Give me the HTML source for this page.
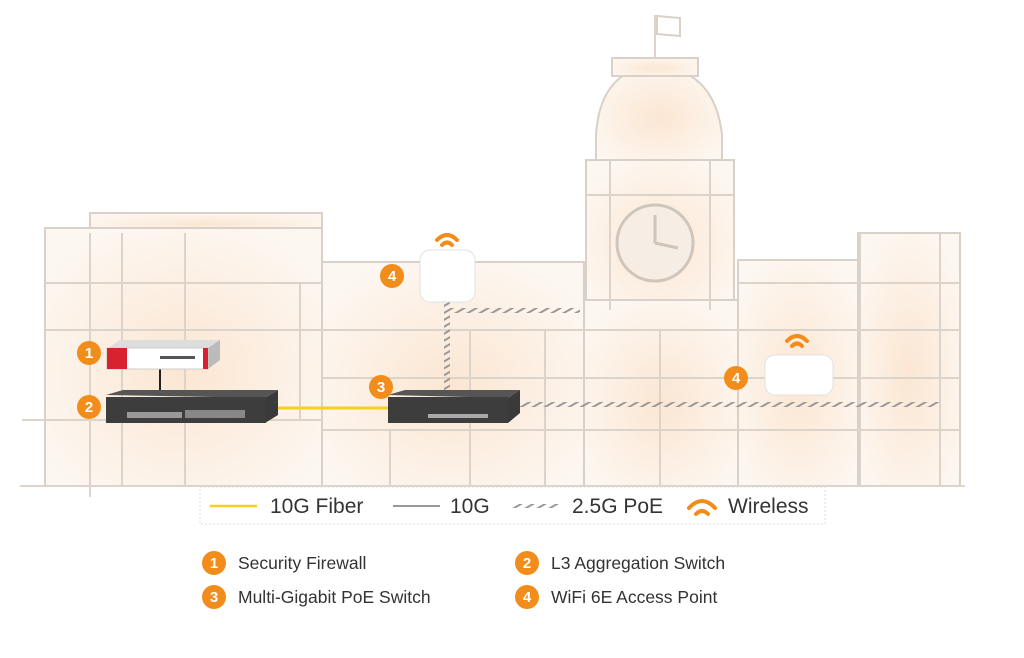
<!DOCTYPE html>
<html><head><meta charset="utf-8"><style>
body{margin:0;background:#fff;width:1024px;height:658px;overflow:hidden;font-family:"Liberation Sans",sans-serif}
svg{position:absolute;left:0;top:0}
.t{font-family:"Liberation Sans",sans-serif;fill:#333}
</style></head><body>
<svg width="1024" height="658" viewBox="0 0 1024 658">
<defs>
<radialGradient id="g" cx="50%" cy="55%" r="60%"><stop offset="0" stop-color="#fbe6d2"/><stop offset="1" stop-color="#fdf7f1"/></radialGradient>
<pattern id="hatch" width="6" height="6" patternUnits="userSpaceOnUse" patternTransform="rotate(60)"><rect width="2" height="6" fill="#999"/></pattern>
</defs>
<g fill="url(#g)" stroke="#d9d0c8" stroke-width="2">
<rect x="586" y="160" width="148" height="150"/>
<path d="M596 160 L596 135 Q600 70 655 65 Q715 70 722 135 L722 160 Z"/>
<rect x="612" y="58" width="86" height="18"/>
<rect x="90" y="213" width="232" height="20"/>
<rect x="45" y="228" width="277" height="258"/>
<rect x="322" y="262" width="262" height="225"/>
<rect x="584" y="300" width="156" height="187"/>
<rect x="738" y="260" width="120" height="226"/>
<rect x="858" y="233" width="102" height="253"/>
</g>
<g stroke="#dcd3ca" stroke-width="2" fill="none">
<line x1="45" y1="283" x2="322" y2="283"/><line x1="45" y1="330" x2="322" y2="330"/><line x1="22" y1="420" x2="322" y2="420"/>
<line x1="322" y1="330" x2="740" y2="330"/><line x1="322" y1="378" x2="740" y2="378"/><line x1="322" y1="430" x2="740" y2="430"/>
<line x1="738" y1="283" x2="960" y2="283"/><line x1="738" y1="330" x2="960" y2="330"/><line x1="738" y1="378" x2="960" y2="378"/><line x1="738" y1="430" x2="960" y2="430"/>
<line x1="90" y1="233" x2="90" y2="497"/><line x1="122" y1="233" x2="122" y2="486"/><line x1="185" y1="233" x2="185" y2="486"/><line x1="300" y1="283" x2="300" y2="420"/>
<line x1="390" y1="430" x2="390" y2="487"/><line x1="470" y1="330" x2="470" y2="487"/><line x1="545" y1="330" x2="545" y2="487"/><line x1="660" y1="330" x2="660" y2="487"/>
<line x1="860" y1="233" x2="860" y2="486"/><line x1="940" y1="233" x2="940" y2="486"/>
<line x1="586" y1="195" x2="734" y2="195"/><line x1="610" y1="160" x2="610" y2="310"/><line x1="710" y1="160" x2="710" y2="310"/>
<line x1="655" y1="15" x2="655" y2="58"/><line x1="20" y1="486" x2="965" y2="486"/>
</g>
<path d="M657 16 L680 18 L680 36 L657 34 Z" fill="#fff" stroke="#d9d0c8" stroke-width="2"/>
<circle cx="655" cy="243" r="38" fill="#f6ede4" stroke="#cfc5bb" stroke-width="3"/>
<line x1="655" y1="243" x2="655" y2="215" stroke="#cfc5bb" stroke-width="3"/><line x1="655" y1="243" x2="678" y2="248" stroke="#cfc5bb" stroke-width="3"/>
<line x1="160" y1="365" x2="160" y2="392" stroke="#222" stroke-width="2"/>
<line x1="265" y1="408" x2="390" y2="408" stroke="#f5d020" stroke-width="3"/>
<rect x="444" y="300" width="6" height="90" fill="url(#hatch)"/>
<rect x="450" y="308" width="130" height="5" fill="url(#hatch)"/>
<rect x="520" y="402" width="420" height="5" fill="url(#hatch)"/>
<path d="M108 348 L120 340 L220 340 L208 348 Z" fill="#ddd"/>
<path d="M208 348 L220 340 L220 360 L208 369 Z" fill="#bbb"/>
<rect x="107" y="348" width="101" height="21" fill="#fff" stroke="#ccc"/>
<rect x="107" y="348" width="20" height="21" fill="#d8222f"/><rect x="203" y="348" width="5" height="21" fill="#d8222f"/>
<rect x="160" y="356" width="35" height="3" fill="#555"/>
<path d="M106 395 L123 390 L278 390 L265 398 Z" fill="#555"/>
<path d="M265 398 L278 390 L278 415 L265 423 Z" fill="#3a3a3a"/>
<rect x="106" y="397" width="160" height="26" fill="#3d3d3d"/>
<rect x="127" y="412" width="55" height="6" fill="#999"/><rect x="185" y="410" width="60" height="8" fill="#888"/>
<path d="M388 395 L405 390 L520 390 L508 398 Z" fill="#555"/>
<path d="M508 398 L520 390 L520 413 L508 423 Z" fill="#3a3a3a"/>
<rect x="388" y="397" width="120" height="26" fill="#3d3d3d"/>
<rect x="428" y="414" width="60" height="4" fill="#aaa"/>
<rect x="420" y="250" width="55" height="52" rx="10" fill="#fff" stroke="#e2e2e2"/>
<rect x="765" y="355" width="68" height="40" rx="10" fill="#fff" stroke="#e2e2e2"/>
<rect x="200" y="487" width="625" height="37" fill="#fff" stroke="#ddd" stroke-dasharray="2,2"/>
<g fill="none" stroke="#f28c1a" stroke-width="4" stroke-linecap="round">
<path d="M437 240 Q447 230 457 240"/><path d="M442 245 Q447 240 452 245"/>
<path d="M787 341 Q797 331 807 341"/><path d="M792 346 Q797 341 802 346"/>
<path d="M689 508 Q702 494 715 508"/><path d="M696 514 Q702 508 708 514"/>
</g>
<g fill="#f28c1a"><circle cx="89" cy="353" r="12"/><circle cx="89" cy="407" r="12"/><circle cx="381" cy="387" r="12"/><circle cx="392" cy="276" r="12"/><circle cx="736" cy="378" r="12"/>
<circle cx="214" cy="563" r="12"/><circle cx="527" cy="563" r="12"/><circle cx="214" cy="597" r="12"/><circle cx="527" cy="597" r="12"/></g>
<g fill="#fff" font-size="15" font-weight="bold" text-anchor="middle" font-family="Liberation Sans">
<text x="89" y="358">1</text><text x="89" y="412">2</text><text x="381" y="392">3</text><text x="392" y="281">4</text><text x="736" y="383">4</text>
<text x="214" y="568">1</text><text x="527" y="568">2</text><text x="214" y="602">3</text><text x="527" y="602">4</text></g>
<line x1="210" y1="506" x2="257" y2="506" stroke="#f5d020" stroke-width="2.5"/>
<line x1="393" y1="506" x2="440" y2="506" stroke="#333" stroke-width="1"/>
<rect x="512" y="504" width="48" height="4" fill="url(#hatch)"/>
<g class="t" font-size="21"><text x="270" y="513">10G Fiber</text><text x="450" y="513">10G</text><text x="572" y="513">2.5G PoE</text><text x="728" y="513">Wireless</text></g>
<g class="t" font-size="17.5"><text x="238" y="569">Security Firewall</text><text x="551" y="569">L3 Aggregation Switch</text><text x="238" y="603">Multi-Gigabit PoE Switch</text><text x="551" y="603">WiFi 6E Access Point</text></g>
</svg>
</body></html>
